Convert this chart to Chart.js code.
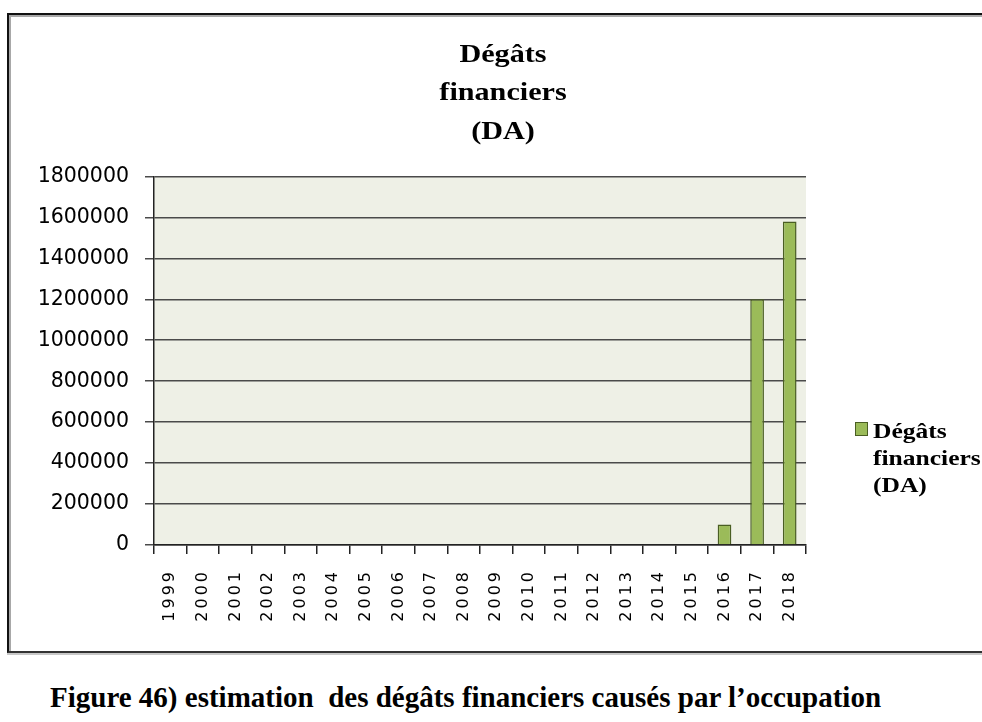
<!DOCTYPE html>
<html lang="fr">
<head>
<meta charset="utf-8">
<title>Dégâts financiers (DA)</title>
<script src="https://cdn.jsdelivr.net/npm/chart.js@4/dist/chart.umd.min.js"></script>
<style>
  html, body { margin: 0; padding: 0; background: #fff; }
  body { width: 982px; height: 722px; overflow: hidden; position: relative; }
  #frame {
    position: absolute; left: 7px; top: 13px;
    width: 1010px; height: 636px;
    border-left: 2px solid #111; border-top: 2px solid #111; border-bottom: 2px solid #333;
    box-shadow: inset 2px 2px 0 #a8a8a8, 0 2px 0 #c8c8c8;
    background: #fff;
  }
  #chart { position: absolute; left: 0; top: 0; }
  #caption {
    position: absolute; left: 50px; top: 683px;
    font-family: "Liberation Serif", "Times New Roman", serif;
    font-weight: bold; font-size: 29px; line-height: 29px;
    white-space: pre; color: #000;
  }
</style>
</head>
<body>
<div id="frame"><canvas id="chart" width="988" height="636"></canvas></div>
<div id="caption">Figure 46) estimation  des dégâts financiers causés par l’occupation</div>
<script>
// Years on the category axis
const years = ['1999','2000','2001','2002','2003','2004','2005','2006','2007','2008',
               '2009','2010','2011','2012','2013','2014','2015','2016','2017','2018'];
// Financial damage per year, in dinars
const degats = [0,0,0,0,0,0,0,0,0,0,0,0,0,0,0,0,0,100000,1200000,1580000];
// Value axis range and step
const yMin = 0;
const yMax = 1800000;
const yStep = 200000;
// Title and legend text, one entry per line
const titleLines = ['Dégâts', 'financiers', '(DA)'];
const seriesLines = ['Dégâts', 'financiers', '(DA)'];

const BAR_FILL = '#9bbb59';
const BAR_EDGE = '#4a5e23';
const SERIF = '"Liberation Serif", "Times New Roman", serif';
const SANS = '"DejaVu Sans", Verdana, sans-serif';

// Light green fill behind the plot area
const plotBackground = {
  id: 'plotBackground',
  beforeDraw(chart) {
    const { ctx, chartArea: a } = chart;
    ctx.save();
    ctx.fillStyle = '#eef0e6';
    ctx.fillRect(a.left, a.top, a.right - a.left, a.bottom - a.top);
    ctx.restore();
  }
};

// Wider title lettering and spaced year labels
const textStyling = {
  id: 'textStyling',
  beforeDraw(chart) {
    const tb = chart.titleBlock;
    if (tb && !tb._wide) {
      const orig = tb.draw;
      tb.draw = function () {
        const c = this.ctx;
        const cx = (this.left + this.right) / 2;
        c.save();
        c.translate(cx, 0); c.scale(1.16, 1); c.translate(-cx, 0);
        orig.call(this);
        c.restore();
      };
      tb._wide = true;
    }
    const sx = chart.scales.x;
    if (sx && !sx._spaced) {
      const origLabels = sx.drawLabels;
      sx.drawLabels = function (area) {
        const c = this.ctx;
        c.save();
        c.letterSpacing = '3px';
        origLabels.call(this, area);
        c.restore();
      };
      sx._spaced = true;
    }
  }
};

// Series key on the right side, laid out as its own box
const sideLegend = {
  id: 'sideLegend',
  beforeInit(chart) {
    const box = {
      position: 'right',
      weight: 10,
      fullSize: false,
      options: {},
      isHorizontal() { return false; },
      update(maxWidth, maxHeight) { this.width = 191; this.height = maxHeight; },
      draw() {
        const ctx = chart.ctx;
        const ds = chart.data.datasets[0];
        const x0 = this.left + 49;
        ctx.save();
        ctx.fillStyle = ds.backgroundColor;
        ctx.strokeStyle = ds.borderColor;
        ctx.lineWidth = 1;
        ctx.fillRect(x0, 407, 13, 14);
        ctx.strokeRect(x0 + 0.5, 407.5, 12, 13);
        ctx.fillStyle = '#000';
        ctx.font = 'bold 22px ' + SERIF;
        ctx.textBaseline = 'alphabetic';
        ctx.textAlign = 'left';
        const tx = x0 + 18;
        ctx.translate(tx, 0); ctx.scale(1.16, 1); ctx.translate(-tx, 0);
        seriesLines.forEach((line, i) => ctx.fillText(line, tx, 423 + i * 27));
        ctx.restore();
      }
    };
    Chart.layouts.addBox(chart, box);
  }
};

new Chart(document.getElementById('chart'), {
  type: 'bar',
  data: {
    labels: years,
    datasets: [{
      label: seriesLines.join(' '),
      data: degats,
      backgroundColor: BAR_FILL,
      borderColor: BAR_EDGE,
      borderWidth: 1.5,
      barPercentage: 0.42,
      categoryPercentage: 1.0
    }]
  },
  options: {
    responsive: false,
    animation: false,
    devicePixelRatio: 1,
    layout: { padding: 0 },
    plugins: {
      legend: { display: false },
      tooltip: { enabled: false },
      title: {
        display: true,
        text: titleLines,
        color: '#000',
        font: { family: SERIF, weight: 'bold', size: 26, lineHeight: 1.48 },
        padding: { top: 21, bottom: 25 }
      }
    },
    scales: {
      x: {
        offset: true,
        grid: {
          offset: true,
          drawOnChartArea: false,
          drawTicks: true,
          tickLength: 9,
          color: '#222',
          lineWidth: 1.5
        },
        border: { display: true, color: '#222', width: 1.5 },
        ticks: {
          autoSkip: false,
          minRotation: 90,
          maxRotation: 90,
          padding: 15,
          color: '#000',
          font: { family: SANS, size: 16 }
        },
        afterFit(s) { s.height = 106; }
      },
      y: {
        min: yMin,
        max: yMax,
        grid: {
          drawOnChartArea: true,
          drawTicks: true,
          tickLength: 9,
          color: '#4a4a4a',
          lineWidth: 1.5
        },
        border: { display: true, color: '#222', width: 1.5 },
        ticks: {
          stepSize: yStep,
          padding: 16,
          color: '#000',
          font: { family: SANS, size: 20.5 },
          callback: v => String(v)
        },
        afterFit(s) { s.width = 145; }
      }
    }
  },
  plugins: [plotBackground, textStyling, sideLegend]
});
</script>
</body>
</html>
